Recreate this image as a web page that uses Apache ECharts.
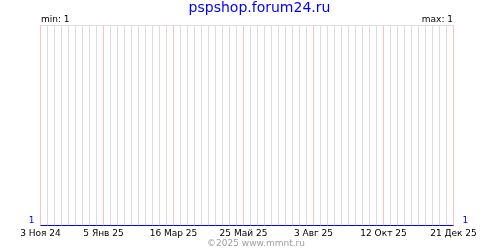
<!DOCTYPE html>
<html><head><meta charset="utf-8">
<script src="https://cdn.jsdelivr.net/npm/echarts@6/dist/echarts.min.js"></script>
<style>html,body{margin:0;padding:0;background:#fff}#c{width:500px;height:250px}</style>
</head><body><div id="c"></div>
<script>
const title = 'pspshop.forum24.ru';
const footer = '©2025 www.mmnt.ru';
const startDate = '2024-11-03';
const endDate = '2025-12-21';
const dates = ['2024-11-03','2024-11-10','2024-11-17','2024-11-24','2024-12-01','2024-12-08','2024-12-15','2024-12-22','2024-12-29',
'2025-01-05','2025-01-12','2025-01-19','2025-01-26','2025-02-02','2025-02-09','2025-02-16','2025-02-23',
'2025-03-02','2025-03-09','2025-03-16','2025-03-23','2025-03-30','2025-04-06','2025-04-13','2025-04-20','2025-04-27',
'2025-05-04','2025-05-11','2025-05-18','2025-05-25','2025-06-01','2025-06-08','2025-06-15','2025-06-22','2025-06-29',
'2025-07-06','2025-07-13','2025-07-20','2025-07-27','2025-08-03','2025-08-10','2025-08-17','2025-08-24','2025-08-31',
'2025-09-07','2025-09-14','2025-09-21','2025-09-28','2025-10-05','2025-10-12','2025-10-19','2025-10-26',
'2025-11-02','2025-11-09','2025-11-16','2025-11-23','2025-11-30','2025-12-07','2025-12-14','2025-12-21'];
const values = [1,1,1,1,1,1,1,1,1,1,1,1,1,1,1,1,1,1,1,1,1,1,1,1,1,1,1,1,1,1,1,1,1,1,1,1,1,1,1,1,1,1,1,1,1,1,1,1,1,1,1,1,1,1,1,1,1,1,1,1];
const tickDates = ['2024-11-03','2025-01-05','2025-03-16','2025-05-25','2025-08-03','2025-10-12','2025-12-21'];
const tickLabels = ['3 Ноя 24','5 Янв 25','16 Мар 25','25 Май 25','3 Авг 25','12 Окт 25','21 Дек 25'];
const minValue = 1, maxValue = 1;

function dayOff(s){const p=s.split('-').map(Number);const b=startDate.split('-').map(Number);
  return Math.round((Date.UTC(p[0],p[1]-1,p[2])-Date.UTC(b[0],b[1]-1,b[2]))/86400000);}
const xMax = dayOff(endDate);
const tickMap = {};
tickDates.forEach((d,i)=>{tickMap[dayOff(d)] = tickLabels[i];});
const redData = [];
tickDates.forEach(d=>{const x=dayOff(d); redData.push([x,1],[x,2],[x,'-']);});
const FONT = 'DejaVu Sans';
const chart = echarts.init(document.getElementById('c'), null, {renderer:'canvas'});
chart.setOption({
  animation:false,
  backgroundColor:'#fff',
  textStyle:{fontFamily:FONT},
  grid:{left:40.5,right:46.5,top:25.5,bottom:24.5},
  xAxis:{type:'value',min:0,max:xMax,interval:7,
    axisLine:{show:false},axisTick:{show:false},
    splitLine:{show:true,lineStyle:{color:'#dddddd',width:1}},
    axisLabel:{show:true,margin:4,color:'#000',fontFamily:FONT,fontSize:9,
      formatter:v=>tickMap[v]!==undefined?tickMap[v]:''}},
  yAxis:[{type:'value',min:1,max:2,interval:1,position:'left',
    axisLine:{show:false},axisTick:{show:false},
    splitLine:{show:true,lineStyle:{color:'#dddddd'}},
    axisLabel:{color:'#0000ff',fontFamily:FONT,fontSize:9,margin:6,verticalAlign:'bottom',
      formatter:v=>v===minValue?String(v):''}},
    {type:'value',min:1,max:2,interval:1,position:'right',
    axisLine:{show:false},axisTick:{show:false},splitLine:{show:false},
    axisLabel:{color:'#0000ff',fontFamily:FONT,fontSize:9,margin:9,verticalAlign:'bottom',
      formatter:v=>v===maxValue?String(v):''}}],
  graphic:[
    {type:'text',x:259.5,y:8,style:{text:title,fill:'#0000ff',font:'14px "DejaVu Sans"',textAlign:'center',textVerticalAlign:'middle'}},
    {type:'text',x:41,y:20,style:{text:'min: '+minValue,fill:'#000',font:'9px "DejaVu Sans"',textAlign:'left',textVerticalAlign:'middle'}},
    {type:'text',x:453,y:20,style:{text:'max: '+maxValue,fill:'#000',font:'9px "DejaVu Sans"',textAlign:'right',textVerticalAlign:'middle'}},
    {type:'text',x:256,y:244,style:{text:footer,fill:'#a0a0a0',font:'9px "DejaVu Sans"',textAlign:'center',textVerticalAlign:'middle'}}
  ],
  series:[
    {type:'line',data:redData,showSymbol:false,connectNulls:false,silent:true,clip:false,
      lineStyle:{color:'#ffc0c0',width:1},z:3},
    {type:'line',data:dates.map((d,i)=>[dayOff(d),values[i]]),showSymbol:false,clip:false,
      lineStyle:{color:'#0000ff',width:1},z:5}]
});
</script></body></html>
